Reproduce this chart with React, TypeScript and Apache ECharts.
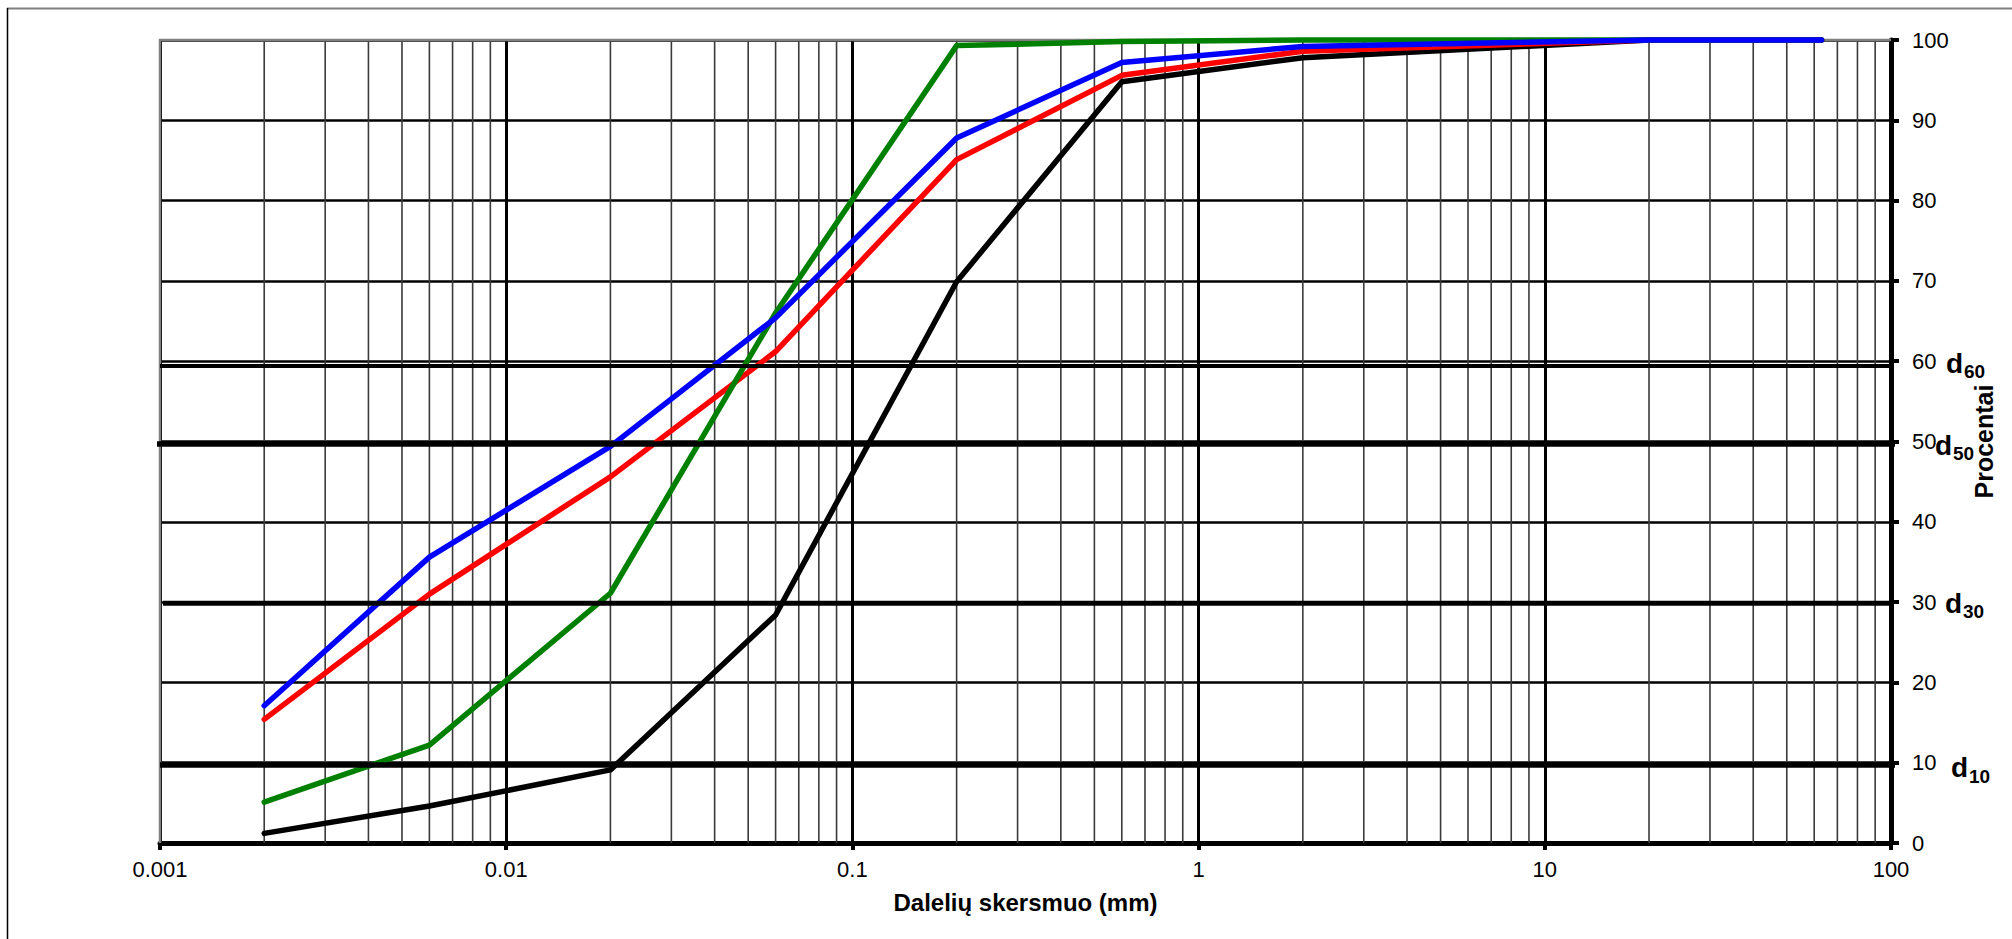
import React, { useEffect, useRef } from 'react';
import * as echarts from 'echarts';

// ---- data ----
const sieveSizes = [0.002, 0.006, 0.02, 0.06, 0.2, 0.6, 2, 20, 63];
const greenPassing = [5.1, 12.2, 31.1, 66.0, 99.3, 99.8, 100, 100, 100];
const bluePassing = [17.1, 35.6, 49.4, 65.4, 87.8, 97.2, 99.2, 100, 100];
const redPassing = [15.4, 31.0, 45.6, 61.2, 85.1, 95.6, 98.6, 100, 100];
const blackPassing = [1.2, 4.6, 9.1, 28.4, 69.9, 94.8, 97.8, 100, 100];

const xTickValues = [0.001, 0.01, 0.1, 1, 10, 100];
const xTickLabels = ['0.001', '0.01', '0.1', '1', '10', '100'];
const decadeStarts = [0.001, 0.01, 0.1, 1, 10];
const minorMultiples = [2, 3, 4, 5, 6, 7, 8, 9];

const dSubscripts = ['60', '50', '30', '10'];
const dValues = [59.4, 49.7, 29.85, 9.7];
const dFrom = [0.001, 0.00096, 0.00102, 0.001];
const dTo = [100, 107, 105.5, 106];

// ---- layout / style constants ----
const dWidths = [4, 5.5, 5, 5.5];
const dLabelX = [1946, 1935, 1945, 1951];
const dBaselineOffset = [12, 14, 11, 15];
const FONT = 'Liberation Sans, Arial, Helvetica, sans-serif';

export default function App() {
  const ref = useRef<HTMLDivElement>(null);

  useEffect(() => {
    const el = ref.current;
    if (!el) return;
    const chart = echarts.init(el, null, { renderer: 'svg' });

    const pairs = (ys: number[]) => sieveSizes.map((x, i) => [x, ys[i]]);
    const dataLine = (name: string, color: string, ys: number[]) => ({
      name,
      type: 'line',
      data: pairs(ys),
      symbol: 'none',
      clip: false,
      silent: true,
      z: 3,
      lineStyle: { color, width: 5.5, cap: 'round', join: 'round' },
    });

    const minorX = decadeStarts.flatMap((d) => minorMultiples.map((m) => d * m));

    const option: any = {
      animation: false,
      backgroundColor: '#ffffff',
      grid: { left: 160, right: 121, top: 40, bottom: 96, show: false },
      xAxis: {
        type: 'log',
        logBase: 10,
        min: 0.001,
        max: 100,
        splitNumber: 5,
        name: 'Dalelių skersmuo (mm)',
        nameLocation: 'middle',
        nameGap: 47,
        nameTextStyle: { fontFamily: FONT, fontSize: 24, fontWeight: 'bold', color: '#000' },
        axisLine: { show: true, lineStyle: { color: '#000', width: 5 } },
        axisTick: { show: true, inside: false, length: 7, lineStyle: { color: '#000', width: 4 } },
        axisLabel: {
          margin: 15,
          fontFamily: FONT,
          fontSize: 22,
          color: '#000',
          formatter: (v: number) => {
            let best = 0;
            xTickValues.forEach((t, i) => {
              if (Math.abs(Math.log10(t) - Math.log10(v)) < Math.abs(Math.log10(xTickValues[best]) - Math.log10(v))) best = i;
            });
            return xTickLabels[best];
          },
        },
        splitLine: { show: true, lineStyle: { color: '#000', width: 3 } },
        minorTick: { show: false },
        minorSplitLine: { show: false },
      },
      yAxis: {
        type: 'value',
        position: 'right',
        min: 0,
        max: 100,
        interval: 10,
        name: 'Procentai',
        nameLocation: 'middle',
        nameRotate: 90,
        nameGap: 80,
        nameTextStyle: { fontFamily: FONT, fontSize: 25, fontWeight: 'bold', color: '#000' },
        axisLine: { show: true, lineStyle: { color: '#000', width: 5 } },
        axisTick: { show: true, inside: false, length: 8, lineStyle: { color: '#000', width: 4 } },
        axisLabel: { margin: 21, fontFamily: FONT, fontSize: 22, color: '#000' },
        splitLine: { show: true, lineStyle: { color: '#000', width: 2.5 } },
      },
      series: [
        {
          type: 'custom',
          silent: true,
          z: 1,
          data: minorX.map((x) => [x, 0]),
          renderItem: (_params: any, api: any) => {
            const x = api.value(0);
            const p0 = api.coord([x, 0]);
            const p1 = api.coord([x, 100]);
            return {
              type: 'line',
              shape: { x1: p0[0], y1: p0[1], x2: p1[0], y2: p1[1] },
              style: { stroke: '#3a3a3a', lineWidth: 1.6 },
            };
          },
        },
        dataLine('Black', '#000000', blackPassing),
        dataLine('Red', '#ff0000', redPassing),
        dataLine('Green', '#008000', greenPassing),
        dataLine('Blue', '#0000ff', bluePassing),
        ...dValues.map((v, i) => ({
          name: 'd' + dSubscripts[i],
          type: 'line',
          data: [
            [dFrom[i], v],
            [dTo[i], v],
          ],
          symbol: 'none',
          clip: false,
          silent: true,
          z: 4,
          lineStyle: { color: '#000', width: dWidths[i], cap: 'butt' },
        })),
      ],
    };

    chart.setOption(option);

    const tl = chart.convertToPixel({ xAxisIndex: 0, yAxisIndex: 0 }, [0.001, 100]) as number[];
    const br = chart.convertToPixel({ xAxisIndex: 0, yAxisIndex: 0 }, [100, 0]) as number[];
    const W = chart.getWidth();
    const H = chart.getHeight();

    const graphics: any[] = [
      {
        type: 'line',
        silent: true,
        z: 0,
        shape: { x1: 7, y1: 8.5, x2: W, y2: 8.5 },
        style: { stroke: '#7f7f7f', lineWidth: 2 },
      },
      {
        type: 'line',
        silent: true,
        z: 0,
        shape: { x1: 7.5, y1: 8, x2: 7.5, y2: H },
        style: { stroke: '#000', lineWidth: 1.5 },
      },
      {
        type: 'polyline',
        silent: true,
        z: 2,
        shape: { points: [[br[0], tl[1]], [tl[0], tl[1]], [tl[0], br[1]]] },
        style: { stroke: '#808080', lineWidth: 2.5, fill: 'none' },
      },
    ];

    dValues.forEach((v, i) => {
      const yp = chart.convertToPixel({ yAxisIndex: 0 }, Math.round(v / 10) * 10) as number;
      const baseline = yp + dBaselineOffset[i];
      graphics.push({
        type: 'text',
        silent: true,
        z: 5,
        x: dLabelX[i],
        y: baseline - 0.35 * 28,
        style: {
          text: 'd',
          fontFamily: FONT,
          fontSize: 28,
          fontWeight: 'bold',
          fill: '#000',
          align: 'left',
          verticalAlign: 'middle',
        },
      });
      graphics.push({
        type: 'text',
        silent: true,
        z: 5,
        x: dLabelX[i] + 18,
        y: baseline + 5 - 0.35 * 19,
        style: {
          text: dSubscripts[i],
          fontFamily: FONT,
          fontSize: 19,
          fontWeight: 'bold',
          fill: '#000',
          align: 'left',
          verticalAlign: 'middle',
        },
      });
    });

    chart.setOption({ graphic: graphics });

    return () => {
      chart.dispose();
    };
  }, []);

  return (
    <div
      ref={ref}
      style={{ position: 'fixed', left: 0, top: 0, width: '2012px', height: '939px', background: '#fff' }}
    />
  );
}
